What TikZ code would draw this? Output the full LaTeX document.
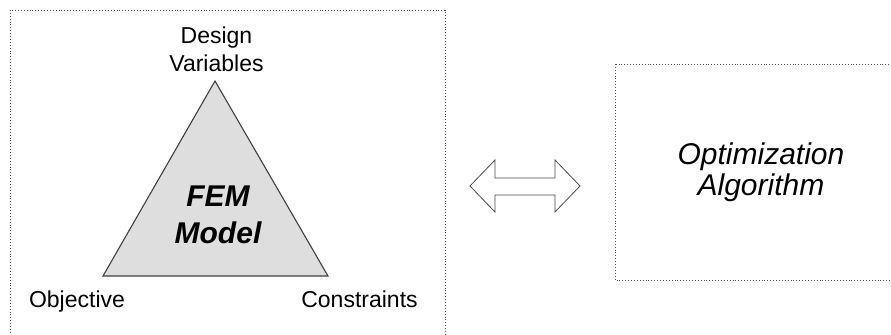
\documentclass[tikz,border=0pt]{standalone}
\usepackage{fontspec}
\setmainfont{Liberation Sans}
\usetikzlibrary{positioning}

\begin{document}
\begin{tikzpicture}[
    x=0.5pt, y=-0.5pt,
    frame/.style={draw=black!70, densely dotted, line width=0.45pt},
    corner/.style={font=\fontsize{11.5}{14}\selectfont, inner sep=0pt, align=center, text=black},
    core/.style={font=\fontsize{15}{18.5}\selectfont\bfseries\itshape, inner sep=0pt, align=center, text=black},
    algo/.style={font=\fontsize{15}{15.5}\selectfont\itshape, inner sep=0pt, align=center, text=black},
    model/.style={draw=black!75, fill=black!13, line width=0.55pt, line join=miter},
    link/.style={draw=black!70, fill=white, line width=0.4pt, line join=miter},
]
\useasboundingbox (0,0) rectangle (891,335);
\clip (0,0) rectangle (891,335);

% --- frames ---
\draw[frame] (10,10) rectangle (445,345);
\draw[frame] (615,64) rectangle (900,280);

% --- FEM triangle ---
\coordinate (apex) at (215,81);
\coordinate (baseL) at (103,276);
\coordinate (baseR) at (328,276);
\draw[model] (apex) -- (baseR) -- (baseL) -- cycle;

\node[core] (fem) at (218,215) {FEM\\Model};
\node[corner] (dv) at (216.5,49) {Design\\Variables};
\node[corner, anchor=base] (obj) at (77,308) {Objective};
\node[corner, anchor=base] (con) at (359.5,308) {Constraints};

% --- double arrow ---
\coordinate (tipL) at (470,186);
\coordinate (tipR) at (580,186);
\draw[link] (tipL) -- (495,160) -- (495,178) -- (555,178) -- (555,160)
    -- (tipR) -- (555,212) -- (555,195) -- (495,195) -- (495,212) -- cycle;

% --- optimizer ---
\node[algo] (opt) at (761,172) {Optimization\\Algorithm};

\end{tikzpicture}
\end{document}
